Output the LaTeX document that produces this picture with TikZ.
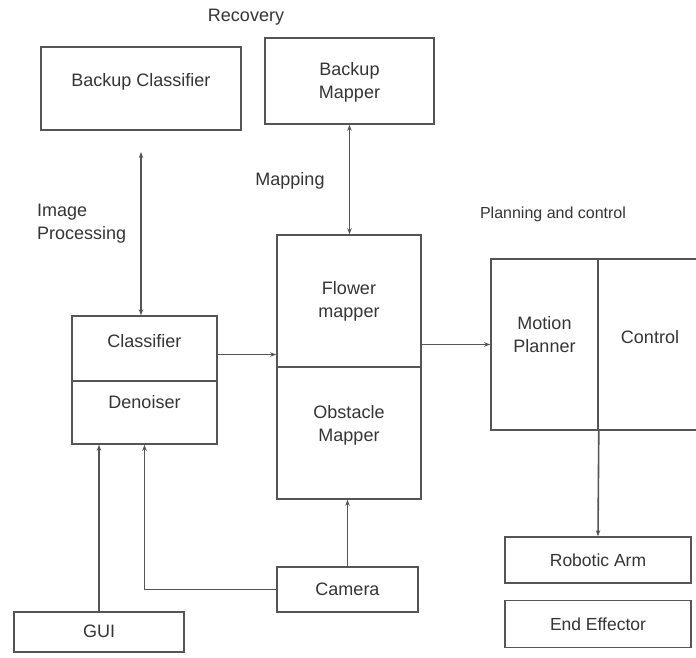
\documentclass[tikz,border=0pt]{standalone}
\usepackage{fontspec}
\setmainfont{Liberation Sans}
\usetikzlibrary{arrows.meta}
\definecolor{linegray}{HTML}{555555}
\definecolor{textgray}{HTML}{353535}
\newcommand{\liftup}[2]{\raisebox{#1}[\height][\depth]{\begin{tabular}{@{}c@{}}#2\end{tabular}}}
\begin{document}
\begin{tikzpicture}[x=1pt,y=-1pt,
  box/.style={draw=linegray, line width=1.6pt, rectangle, inner sep=0pt, align=center,
    text=textgray, font=\fontsize{18}{23}\selectfont},
  lbl/.style={inner sep=0pt, text=textgray, font=\fontsize{18}{23}\selectfont},
  conn/.style={draw=linegray, line width=1.6pt, -{Stealth[length=6pt,width=4.5pt]}},
  dconn/.style={draw=linegray, line width=1.6pt, {Stealth[length=6pt,width=4.5pt]}-{Stealth[length=6pt,width=4.5pt]}}]
\useasboundingbox (0,0) rectangle (696,657);
\clip (0,0) rectangle (696,657);
\fill[white] (0,0) rectangle (696,657);

% top boxes
\node[box, minimum width=200pt, minimum height=83pt] (bclf) at (141,88.5) {\liftup{7pt}{Backup Classifier}};
\node[box, minimum width=169pt, minimum height=86pt] (bmap) at (349.5,81) {\liftup{-1pt}{Backup\\Mapper}};
\node[lbl] (rec) at (246,17) {Recovery};
\node[lbl] (mapl) at (290,181) {Mapping};
\node[lbl, align=left, anchor=west] (ipl) at (37,223.5) {Image\\Processing};
\node[lbl, font=\fontsize{16}{20}\selectfont] (pcl) at (553,214) {Planning and control};

% classifier / denoiser
\node[box, minimum width=145pt, minimum height=65pt] (clf) at (144.5,348.5) {\liftup{6pt}{Classifier}};
\node[box, minimum width=145pt, minimum height=63pt] (den) at (144.5,412.5) {\liftup{9pt}{Denoiser}};

% flower / obstacle mapper
\node[box, minimum width=144pt, minimum height=132pt] (flw) at (349,301) {\liftup{0pt}{Flower\\mapper}};
\node[box, minimum width=144pt, minimum height=132pt] (obs) at (349,433) {\liftup{8pt}{Obstacle\\Mapper}};

% planning and control
\node[box, minimum width=107pt, minimum height=171pt] (mot) at (544.5,344.5) {\liftup{8pt}{Motion\\Planner}};
\node[box, minimum width=104pt, minimum height=171pt] (ctl) at (650,344.5) {\liftup{6pt}{Control}};

% bottom boxes
\node[box, minimum width=186pt, minimum height=46pt, font=\fontsize{17.5}{21}\selectfont] (arm) at (598,560) {Robotic Arm};
\node[box, minimum width=186pt, minimum height=47pt, font=\fontsize{17.5}{21}\selectfont] (eff) at (598,624) {End Effector};
\node[box, minimum width=141pt, minimum height=45pt] (cam) at (347.5,589.5) {Camera};
\node[box, minimum width=170pt, minimum height=40pt] (gui) at (99,632) {\liftup{-1pt}{GUI}};

% connectors
\coordinate (iptop) at (141,152);
\draw[dconn] (iptop) -- (iptop |- clf.north);
\draw[dconn] (bmap.south) -- (bmap.south |- flw.north);
\draw[conn] ([yshift=-6pt]clf.east) -- ([yshift=-6pt]clf.east -| flw.west);
\draw[conn] (mot.west -| flw.east) -- (mot.west);
\draw[conn] (mot.south east) -- (arm.north);
\draw[conn] (gui.north) -- (gui.north |- den.south);
\draw[conn] (cam.west) -| (den.south);
\draw[conn] (cam.north) -- (cam.north |- obs.south);
\end{tikzpicture}
\end{document}
